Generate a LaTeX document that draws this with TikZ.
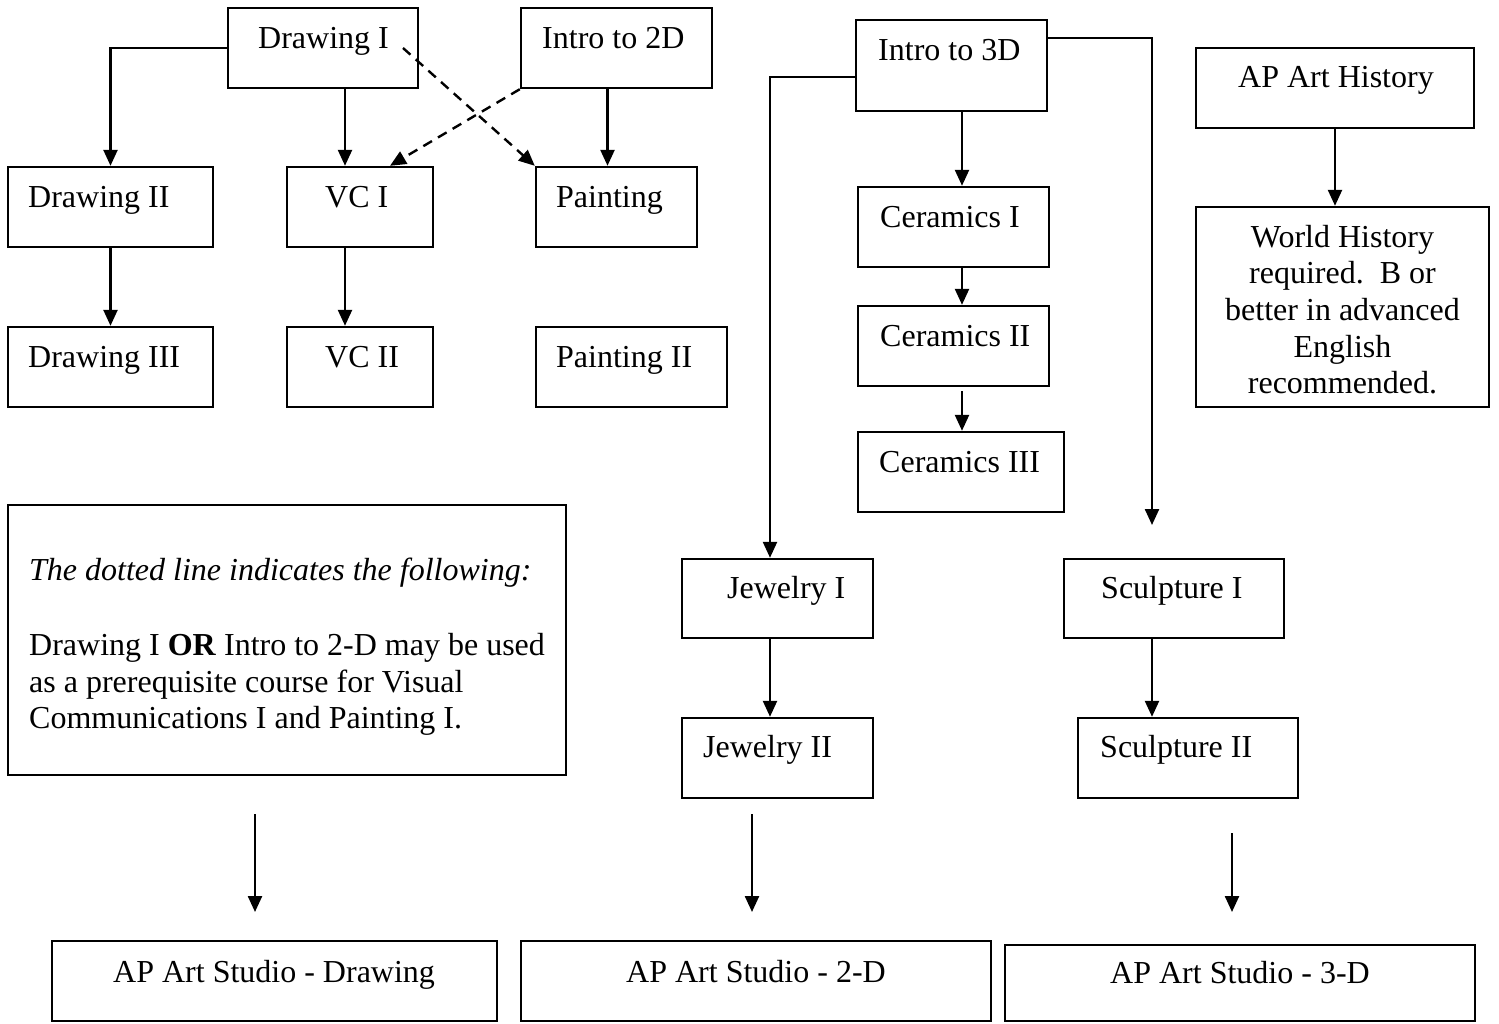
\documentclass[tikz,border=0pt]{standalone}
\usepackage{fontspec}
\setmainfont{Liberation Serif}
\usetikzlibrary{arrows.meta}

\begin{document}
\begin{tikzpicture}[x=1pt,y=-1pt,
  box/.style={draw, line width=2.4pt, rectangle, inner sep=0pt},
  lbl/.style={anchor=base west, inner sep=0pt, font=\fontsize{32}{36.7}\selectfont},
  clbl/.style={anchor=base, inner sep=0pt, font=\fontsize{32}{36.7}\selectfont},
  arr/.style={line width=2.4pt, -{Triangle[length=16pt,width=14pt]}},
  darr/.style={arr, dash pattern=on 10pt off 7pt},
]
\useasboundingbox (0,0) rectangle (1499,1023);

% ---- course boxes ----
\node[box, minimum width=190pt, minimum height=80pt] (d1)  at (323,48) {};
\node[box, minimum width=191pt, minimum height=80pt] (i2)  at (616.5,48) {};
\node[box, minimum width=191pt, minimum height=91pt] (i3)  at (951.5,65.5) {};
\node[box, minimum width=278pt, minimum height=80pt] (ah)  at (1335,88) {};
\node[box, minimum width=205pt, minimum height=80pt] (d2)  at (110.5,207) {};
\node[box, minimum width=146pt, minimum height=80pt] (vc1) at (360,207) {};
\node[box, minimum width=161pt, minimum height=80pt] (pt)  at (616.5,207) {};
\node[box, minimum width=191pt, minimum height=80pt] (c1)  at (953.5,227) {};
\node[box, minimum width=293pt, minimum height=200pt] (wh) at (1342.5,307) {};
\node[box, minimum width=205pt, minimum height=80pt] (d3)  at (110.5,367) {};
\node[box, minimum width=146pt, minimum height=80pt] (vc2) at (360,367) {};
\node[box, minimum width=191pt, minimum height=80pt] (pt2) at (631.5,367) {};
\node[box, minimum width=191pt, minimum height=80pt] (c2)  at (953.5,346) {};
\node[box, minimum width=206pt, minimum height=80pt] (c3)  at (961,472) {};
\node[box, minimum width=558pt, minimum height=270pt] (note) at (287,640) {};
\node[box, minimum width=191pt, minimum height=79pt] (j1)  at (777.5,598.5) {};
\node[box, minimum width=220pt, minimum height=79pt] (s1)  at (1174,598.5) {};
\node[box, minimum width=191pt, minimum height=80pt] (j2)  at (777.5,758) {};
\node[box, minimum width=220pt, minimum height=80pt] (s2)  at (1188,758) {};
\node[box, minimum width=445pt, minimum height=80pt] (apd) at (274.5,981) {};
\node[box, minimum width=470pt, minimum height=80pt] (ap2) at (756,981) {};
\node[box, minimum width=470pt, minimum height=76pt] (ap3) at (1240,983) {};

% ---- labels ----
\node[lbl] (td1)  at (258,48)  {Drawing I};
\node[lbl] (ti2)  at (542,48)  {Intro to 2D};
\node[lbl] (ti3)  at (878,60)  {Intro to 3D};
\node[lbl] (tah)  at (1238,87) {AP Art History};
\node[lbl] (td2)  at (28,207)  {Drawing II};
\node[lbl] (tvc1) at (325,207) {VC I};
\node[lbl] (tpt)  at (556,207) {Painting};
\node[lbl] (tc1)  at (880,227) {Ceramics I};
\node[lbl] (td3)  at (28,367)  {Drawing III};
\node[lbl] (tvc2) at (325,367) {VC II};
\node[lbl] (tpt2) at (556,367) {Painting II};
\node[lbl] (tc2)  at (880,346) {Ceramics II};
\node[lbl] (tc3)  at (879,472) {Ceramics III};
\node[lbl] (tj1)  at (727,598) {Jewelry I};
\node[lbl] (ts1)  at (1101,598) {Sculpture I};
\node[lbl] (tj2)  at (703,757) {Jewelry II};
\node[lbl] (ts2)  at (1100,757) {Sculpture II};
\node[lbl] (tapd) at (113,982) {AP Art Studio - Drawing};
\node[lbl] (tap2) at (626,982) {AP Art Studio - 2-D};
\node[lbl] (tap3) at (1110,983) {AP Art Studio - 3-D};

% World History requirement text
\node[clbl] (wh1) at (1342.5,247) {World History};
\node[clbl] (wh2) at (1342.5,283) {required.\ \ B or};
\node[clbl] (wh3) at (1342.5,320) {better in advanced};
\node[clbl] (wh4) at (1342.5,357) {English};
\node[clbl] (wh5) at (1342.5,393) {recommended.};

% legend for the dashed connectors
\node[lbl] (n1) at (29,580) {\itshape The dotted line indicates the following:};
\node[lbl] (n2) at (29,655) {Drawing I \textbf{OR} Intro to 2-D may be used};
\node[lbl] (n3) at (29,692) {as a prerequisite course for Visual};
\node[lbl] (n4) at (29,728) {Communications I and Painting I.};

% ---- connectors ----
\draw[arr] (d1.west) -| (d2.north);
\draw[arr] ([xshift=22pt]d1.south) -- ([xshift=-15pt]vc1.north);
\draw[arr] (d2.south) -- (d3.north);
\draw[arr] ([xshift=-15pt]vc1.south) -- ([xshift=-15pt]vc2.north);
\draw[arr] ([xshift=-9pt]i2.south) -- ([xshift=-9pt]pt.north);
\draw[darr] ([xshift=80pt]d1.center) -- (pt.north west);
\draw[darr] (i2.south west) -- ([xshift=30pt]vc1.north);

\draw[arr] ([xshift=10.5pt]i3.south) -- ([xshift=8.5pt]c1.north);
\draw[arr] ([xshift=8.5pt]c1.south) -- ([xshift=8.5pt]c2.north);
\draw[arr] ([xshift=8.5pt,yshift=-4pt]c2.south) -- ([xshift=1pt]c3.north);
\draw[arr] ([yshift=-11.5pt]i3.west) -| ([xshift=-7.5pt]j1.north);
\coordinate (sc) at (1152,525);
\draw[arr] ([yshift=27.5pt]i3.east) -| (sc);

\draw[arr] (ah.south) -- ([xshift=-7.5pt]wh.north);
\draw[arr] ([xshift=-7.5pt]j1.south) -- ([xshift=-7.5pt]j2.north);
\draw[arr] ([xshift=-22pt]s1.south) -- ([xshift=-36pt]s2.north);

% arrows leading to the AP studio courses
\coordinate (b1s) at (255,814);
\coordinate (b1e) at (255,912);
\coordinate (b2s) at (752,814);
\coordinate (b2e) at (752,912);
\coordinate (b3s) at (1232,833);
\coordinate (b3e) at (1232,912);
\draw[arr] (b1s) -- (b1e);
\draw[arr] (b2s) -- (b2e);
\draw[arr] (b3s) -- (b3e);
\end{tikzpicture}
\end{document}
